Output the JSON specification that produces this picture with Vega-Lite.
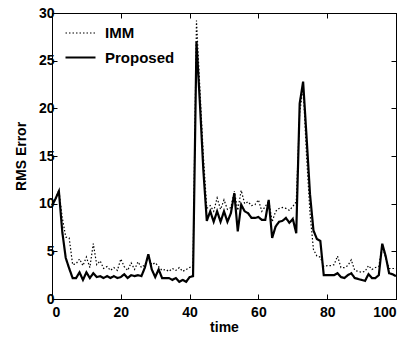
{
  "$schema": "https://vega.github.io/schema/vega-lite/v6.json",
  "width": 344,
  "height": 286,
  "autosize": {"type": "none"},
  "padding": {"left": 52, "top": 13, "right": 24, "bottom": 46},
  "background": "white",
  "config": {
    "view": {"stroke": "black", "strokeWidth": 1},
    "font": "Liberation Sans",
    "axis": {
      "grid": false,
      "domainColor": "black",
      "tickColor": "black",
      "labelColor": "black",
      "labelFont": "Liberation Sans",
      "labelFontWeight": "bold",
      "labelFontSize": 14,
      "titleFont": "Liberation Sans",
      "titleFontWeight": "bold",
      "titleFontSize": 14,
      "titleColor": "black"
    },
    "legend": {
      "labelFont": "Liberation Sans",
      "labelFontWeight": "bold",
      "labelFontSize": 15,
      "labelColor": "black"
    }
  },
  "data": {
    "values": [
      {"t":0,"IMM":9.9,"Proposed":9.8},
      {"t":1,"IMM":10.5,"Proposed":10.5},
      {"t":2,"IMM":11.4,"Proposed":11.3},
      {"t":3,"IMM":8.5,"Proposed":7.0},
      {"t":4,"IMM":6.5,"Proposed":4.3},
      {"t":5,"IMM":6.4,"Proposed":3.2},
      {"t":6,"IMM":3.6,"Proposed":2.2},
      {"t":7,"IMM":3.7,"Proposed":2.2},
      {"t":8,"IMM":4.2,"Proposed":2.8},
      {"t":9,"IMM":3.5,"Proposed":2.0},
      {"t":10,"IMM":4.4,"Proposed":2.8},
      {"t":11,"IMM":3.3,"Proposed":2.2},
      {"t":12,"IMM":5.8,"Proposed":2.7},
      {"t":13,"IMM":3.6,"Proposed":2.3},
      {"t":14,"IMM":4.0,"Proposed":2.4},
      {"t":15,"IMM":3.2,"Proposed":2.2},
      {"t":16,"IMM":3.4,"Proposed":2.4},
      {"t":17,"IMM":3.0,"Proposed":2.2},
      {"t":18,"IMM":3.3,"Proposed":2.4},
      {"t":19,"IMM":3.0,"Proposed":2.2},
      {"t":20,"IMM":4.2,"Proposed":2.3},
      {"t":21,"IMM":3.4,"Proposed":2.6},
      {"t":22,"IMM":3.0,"Proposed":2.2},
      {"t":23,"IMM":3.8,"Proposed":2.5},
      {"t":24,"IMM":3.1,"Proposed":2.4},
      {"t":25,"IMM":3.9,"Proposed":2.5},
      {"t":26,"IMM":3.3,"Proposed":2.4},
      {"t":27,"IMM":3.6,"Proposed":3.3},
      {"t":28,"IMM":4.4,"Proposed":4.7},
      {"t":29,"IMM":3.6,"Proposed":3.1},
      {"t":30,"IMM":3.8,"Proposed":2.3},
      {"t":31,"IMM":3.4,"Proposed":3.1},
      {"t":32,"IMM":3.0,"Proposed":2.2},
      {"t":33,"IMM":3.1,"Proposed":2.2},
      {"t":34,"IMM":2.9,"Proposed":2.2},
      {"t":35,"IMM":3.2,"Proposed":2.0},
      {"t":36,"IMM":3.0,"Proposed":2.2},
      {"t":37,"IMM":3.3,"Proposed":1.8},
      {"t":38,"IMM":2.9,"Proposed":2.0},
      {"t":39,"IMM":3.1,"Proposed":1.8},
      {"t":40,"IMM":3.3,"Proposed":2.3},
      {"t":41,"IMM":3.5,"Proposed":2.4},
      {"t":42,"IMM":29.2,"Proposed":27.0},
      {"t":43,"IMM":22.0,"Proposed":20.5},
      {"t":44,"IMM":15.0,"Proposed":13.5},
      {"t":45,"IMM":9.5,"Proposed":8.2},
      {"t":46,"IMM":9.8,"Proposed":9.2},
      {"t":47,"IMM":9.2,"Proposed":8.1},
      {"t":48,"IMM":10.6,"Proposed":9.2},
      {"t":49,"IMM":9.4,"Proposed":8.1},
      {"t":50,"IMM":10.4,"Proposed":9.2},
      {"t":51,"IMM":9.4,"Proposed":8.1},
      {"t":52,"IMM":9.6,"Proposed":9.0},
      {"t":53,"IMM":11.3,"Proposed":11.1},
      {"t":54,"IMM":9.3,"Proposed":7.1},
      {"t":55,"IMM":11.4,"Proposed":9.9},
      {"t":56,"IMM":10.0,"Proposed":9.2},
      {"t":57,"IMM":10.2,"Proposed":9.0},
      {"t":58,"IMM":9.8,"Proposed":8.5},
      {"t":59,"IMM":9.9,"Proposed":8.5},
      {"t":60,"IMM":10.4,"Proposed":8.6},
      {"t":61,"IMM":9.2,"Proposed":8.3},
      {"t":62,"IMM":9.7,"Proposed":8.3},
      {"t":63,"IMM":10.3,"Proposed":10.4},
      {"t":64,"IMM":8.1,"Proposed":6.4},
      {"t":65,"IMM":9.2,"Proposed":7.6},
      {"t":66,"IMM":9.5,"Proposed":8.1},
      {"t":67,"IMM":9.6,"Proposed":8.2},
      {"t":68,"IMM":9.5,"Proposed":8.5},
      {"t":69,"IMM":9.3,"Proposed":8.0},
      {"t":70,"IMM":9.7,"Proposed":8.4},
      {"t":71,"IMM":10.2,"Proposed":6.9},
      {"t":72,"IMM":19.5,"Proposed":20.5},
      {"t":73,"IMM":22.3,"Proposed":22.8},
      {"t":74,"IMM":15.0,"Proposed":17.0},
      {"t":75,"IMM":9.0,"Proposed":11.0},
      {"t":76,"IMM":5.2,"Proposed":7.2},
      {"t":77,"IMM":4.5,"Proposed":6.3},
      {"t":78,"IMM":4.4,"Proposed":6.1},
      {"t":79,"IMM":3.4,"Proposed":2.5},
      {"t":80,"IMM":3.5,"Proposed":2.5},
      {"t":81,"IMM":3.5,"Proposed":2.5},
      {"t":82,"IMM":3.6,"Proposed":2.5},
      {"t":83,"IMM":4.5,"Proposed":2.7},
      {"t":84,"IMM":3.3,"Proposed":2.3},
      {"t":85,"IMM":3.3,"Proposed":2.2},
      {"t":86,"IMM":3.5,"Proposed":2.5},
      {"t":87,"IMM":4.1,"Proposed":2.7},
      {"t":88,"IMM":3.0,"Proposed":2.2},
      {"t":89,"IMM":2.9,"Proposed":2.1},
      {"t":90,"IMM":2.8,"Proposed":2.0},
      {"t":91,"IMM":2.9,"Proposed":1.9},
      {"t":92,"IMM":3.5,"Proposed":2.6},
      {"t":93,"IMM":3.1,"Proposed":2.2},
      {"t":94,"IMM":3.3,"Proposed":2.2},
      {"t":95,"IMM":3.4,"Proposed":2.5},
      {"t":96,"IMM":5.6,"Proposed":5.8},
      {"t":97,"IMM":4.3,"Proposed":4.5},
      {"t":98,"IMM":3.2,"Proposed":2.7},
      {"t":99,"IMM":3.2,"Proposed":2.6},
      {"t":100,"IMM":3.2,"Proposed":2.4}
    ]
  },
  "transform": [{"fold": ["IMM", "Proposed"], "as": ["series", "value"]}],
  "layer": [
    {
      "mark": {"type": "line", "color": "black", "strokeCap": "butt"},
      "encoding": {
        "x": {
          "field": "t", "type": "quantitative",
          "scale": {"domain": [0, 100], "nice": false},
          "axis": {"title": "time", "values": [0,20,40,60,80,100], "tickSize": -5, "labelPadding": 11, "titlePadding": 1}
        },
        "y": {
          "field": "value", "type": "quantitative",
          "scale": {"domain": [0, 30], "nice": false},
          "axis": {"title": "RMS Error", "values": [0,5,10,15,20,25,30], "tickSize": -5, "labelPadding": 3, "titlePadding": 10}
        },
        "strokeDash": {
          "field": "series", "type": "nominal",
          "scale": {"domain": ["IMM", "Proposed"], "range": [[1.5, 2], [1, 0]]},
          "legend": {
            "title": null, "orient": "none", "legendX": 12, "legendY": 4,
            "symbolType": "stroke", "symbolSize": 900, "symbolStrokeColor": "black",
            "rowPadding": -6, "labelOffset": 8
          }
        },
        "strokeWidth": {
          "field": "series", "type": "nominal",
          "scale": {"domain": ["IMM", "Proposed"], "range": [1.2, 2.2]},
          "legend": {
            "title": null, "orient": "none", "legendX": 12, "legendY": 4,
            "symbolType": "stroke", "symbolSize": 900, "symbolStrokeColor": "black",
            "rowPadding": -6, "labelOffset": 8
          }
        }
      }
    },
    {
      "mark": {"type": "point", "opacity": 0},
      "encoding": {
        "x": {
          "field": "t", "type": "quantitative",
          "scale": {"domain": [0, 100], "nice": false},
          "axis": {"orient": "top", "title": null, "labels": false, "values": [0,20,40,60,80,100], "tickSize": -5}
        },
        "y": {
          "field": "value", "type": "quantitative",
          "scale": {"domain": [0, 30], "nice": false},
          "axis": {"orient": "right", "title": null, "labels": false, "values": [0,5,10,15,20,25,30], "tickSize": -5}
        }
      }
    }
  ],
  "resolve": {"axis": {"x": "independent", "y": "independent"}}
}
